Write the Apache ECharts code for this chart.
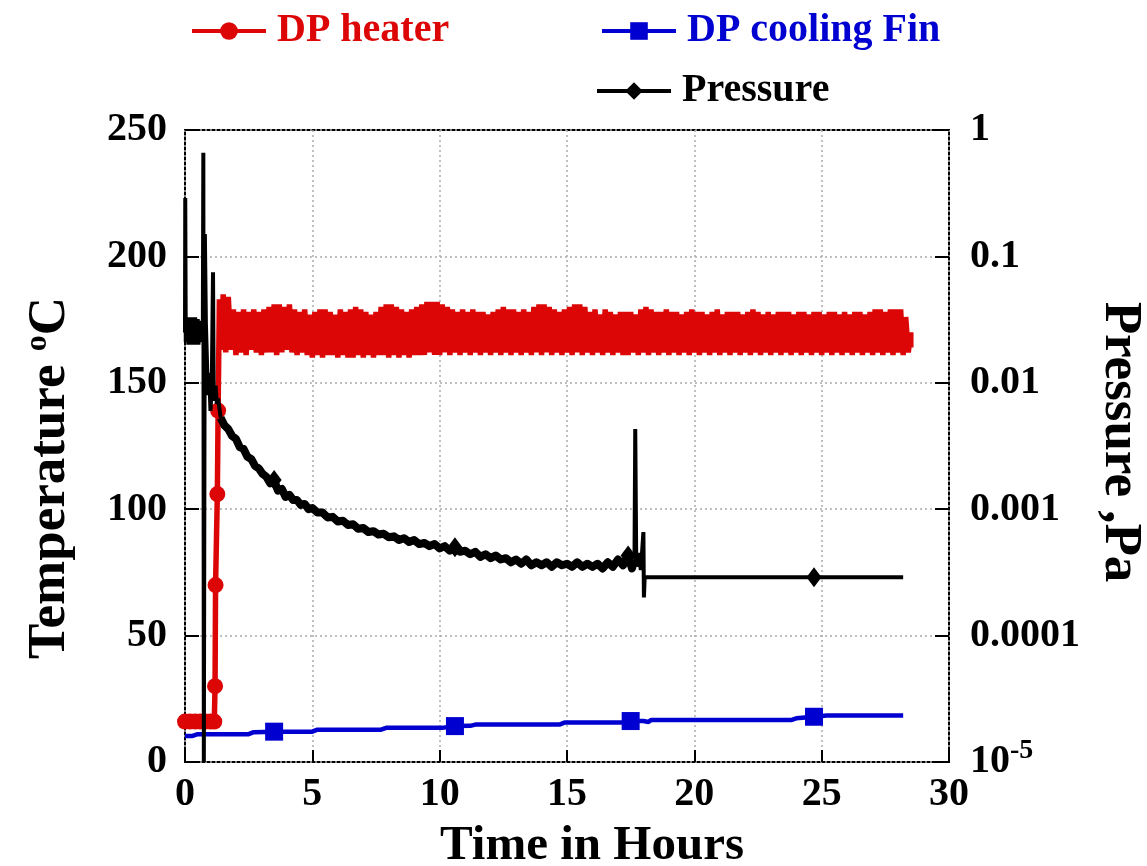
<!DOCTYPE html>
<html><head><meta charset="utf-8">
<script src="https://cdn.jsdelivr.net/npm/echarts@6/dist/echarts.min.js"></script>
<style>html,body{margin:0;padding:0;background:#fff}#c{width:1147px;height:866px}</style>
</head><body><div id="c"></div>
<script>
// ---------- DATA ----------
const xTicks = [0, 5, 10, 15, 20, 25, 30];
const tempTicks = [0, 50, 100, 150, 200, 250];
const pressureTicks = [1e-5, 1e-4, 1e-3, 1e-2, 1e-1, 1];
const pressureTickLabels = ['10^-5', '0.0001', '0.001', '0.01', '0.1', '1'];

// DP heater (deg C): warm-up, then the dense oscillating band
const heaterTime = [0,0.2,0.4,0.6,0.8,1.0,1.15,1.18,1.2,1.27,1.3,1.35,
1.4,1.5,1.6,1.7,1.8,1.9,2.0,2.1,2.2,2.3,
2.4,2.5,2.6,2.7,2.8,2.9,3.0,3.1,3.2,3.3,
3.4,3.5,3.6,3.7,3.8,3.9,4.0,4.1,4.2,4.3,
4.4,4.5,4.6,4.7,4.8,4.9,5.0,5.1,5.2,5.3,
5.4,5.5,5.6,5.7,5.8,5.9,6.0,6.1,6.2,6.3,
6.4,6.5,6.6,6.7,6.8,6.9,7.0,7.1,7.2,7.3,
7.4,7.5,7.6,7.7,7.8,7.9,8.0,8.1,8.2,8.3,
8.4,8.5,8.6,8.7,8.8,8.9,9.0,9.1,9.2,9.3,
9.4,9.5,9.6,9.7,9.8,9.9,10.0,10.1,10.2,10.3,
10.4,10.5,10.6,10.7,10.8,10.9,11.0,11.1,11.2,11.3,
11.4,11.5,11.6,11.7,11.8,11.9,12.0,12.1,12.2,12.3,
12.4,12.5,12.6,12.7,12.8,12.9,13.0,13.1,13.2,13.3,
13.4,13.5,13.6,13.7,13.8,13.9,14.0,14.1,14.2,14.3,
14.4,14.5,14.6,14.7,14.8,14.9,15.0,15.1,15.2,15.3,
15.4,15.5,15.6,15.7,15.8,15.9,16.0,16.1,16.2,16.3,
16.4,16.5,16.6,16.7,16.8,16.9,17.0,17.1,17.2,17.3,
17.4,17.5,17.6,17.7,17.8,17.9,18.0,18.1,18.2,18.3,
18.4,18.5,18.6,18.7,18.8,18.9,19.0,19.1,19.2,19.3,
19.4,19.5,19.6,19.7,19.8,19.9,20.0,20.1,20.2,20.3,
20.4,20.5,20.6,20.7,20.8,20.9,21.0,21.1,21.2,21.3,
21.4,21.5,21.6,21.7,21.8,21.9,22.0,22.1,22.2,22.3,
22.4,22.5,22.6,22.7,22.8,22.9,23.0,23.1,23.2,23.3,
23.4,23.5,23.6,23.7,23.8,23.9,24.0,24.1,24.2,24.3,
24.4,24.5,24.6,24.7,24.8,24.9,25.0,25.1,25.2,25.3,
25.4,25.5,25.6,25.7,25.8,25.9,26.0,26.1,26.2,26.3,
26.4,26.5,26.6,26.7,26.8,26.9,27.0,27.1,27.2,27.3,
27.4,27.5,27.6,27.7,27.8,27.9,28.0,28.1,28.2,28.3,
28.4,28.5,28.5];
const heaterTemp = [16,16,16,16,16,16,16,30,70,106,139,183,
163,185,162,184,163,179,161,178,162,179,
161,178,163,179,162,178,161,179,162,180,
162,181,161,181,162,180,163,181,162,179,
161,178,162,179,161,177,160,178,161,179,
160,179,161,178,161,177,160,179,161,178,
160,179,160,180,161,179,160,178,161,177,
160,178,161,180,161,181,160,181,161,180,
160,179,161,178,160,179,161,180,161,181,
161,182,162,182,161,182,161,181,162,180,
161,179,162,178,161,179,162,178,161,179,
162,178,161,178,162,177,161,178,162,179,
161,180,162,179,161,179,162,178,161,179,
162,178,161,180,162,181,161,181,162,180,
161,179,162,178,161,179,162,180,161,181,
162,181,161,180,162,178,161,179,162,177,
161,179,162,178,161,177,162,178,161,178,
161,178,162,177,161,179,162,180,161,179,
162,178,161,178,162,179,161,178,162,178,
161,177,162,178,161,179,162,178,161,178,
162,177,161,178,162,179,161,177,162,178,
161,178,162,178,161,177,162,178,161,179,
162,178,161,177,162,178,161,177,162,178,
161,178,162,178,161,177,162,178,161,178,
162,177,161,178,162,178,161,177,162,178,
161,178,162,177,161,178,162,177,161,178,
162,178,161,177,162,178,161,179,162,179,
161,178,162,179,161,179,162,179,161,176,
162,170,164];
const heaterMarkTime = [0,0.2,0.4,0.6,0.8,1.0,1.15,1.18,1.2,1.27,1.3];

// DP cooling Fin (deg C)
const coolTime = [0,0.3,0.5,2.5,2.7,3.5,4.0,5.0,5.2,7.7,7.9,10.1,10.6,11.2,11.4,14.7,14.9,17.2,17.5,18.0,18.2,18.3,18.5,23.8,24.0,24.7,25.2,28.2];
const coolTemp = [10.3,10.3,11,11,11.8,12,12,12,12.8,12.8,13.5,13.5,14.2,14.3,14.8,14.8,15.6,15.6,16.2,16.2,15.8,16.6,16.6,16.6,17.3,17.9,18.4,18.4];
const coolMarkTime = [3.5, 10.6, 17.5, 24.7];

// Pressure (Pa): start-up spikes, pump-down curve, late spike and plateau
const pressEarlyTime = [0,0.01,0.03,0.06,0.1,0.13,0.15,0.18,0.2,0.23,0.25,0.28,0.3,0.33,0.35,0.38,0.4,0.43,0.45,0.48,0.5,0.53,0.55,0.58,0.6,0.65,0.7,0.72,0.74,0.78,0.82,0.9,0.95,1.0,1.05,1.1,1.13,1.2,1.25,1.3,1.4];
const pressEarlyVal = [0.025,0.29,0.021,0.03,0.032,0.02,0.033,0.021,0.033,0.02,0.032,0.021,0.032,0.02,0.033,0.021,0.033,0.02,0.031,0.021,0.032,0.02,0.031,0.021,0.028,0.022,0.025,0.66,0.00001,0.15,0.03,0.008,0.012,0.006,0.009,0.075,0.0072,0.0095,0.0068,0.0075,0.0053];
const pressCurveTime = [1.4,1.55,1.7,1.85,2.0,2.15,2.3,2.45,2.6,2.75,2.9,3.05,3.2,3.35,3.5,3.65,3.8,3.95,4.1,4.25,4.4,4.55,4.7,4.85,5.0,
5.2,5.4,5.6,5.8,6.0,6.2,6.4,6.6,6.8,7.0,7.2,7.4,7.6,7.8,8.0,8.2,8.4,8.6,8.8,9.0,9.2,9.4,9.6,9.8,10.0,10.2,10.4,10.6,10.8,
11.0,11.2,11.4,11.6,11.8,12.0,12.2,12.4,12.6,12.8,13.0,13.2,13.4,13.6,13.8,14.0,14.2,14.4,14.6,14.8,15.0,15.2,15.4,15.6,15.8,
16.0,16.2,16.4,16.6,16.8,17.0,17.2,17.4,17.55,17.65];
const pressCurveVal = [0.0053,0.0046,0.0043,0.0038,0.0036,0.0031,0.0030,0.0026,0.0025,0.0022,0.0021,0.0019,0.0018,0.0016,0.0017,0.0014,0.00145,0.00125,0.0013,0.00118,0.00118,0.00108,0.00110,0.00100,0.00102,
0.00094,0.00094,0.00086,0.00087,0.00080,0.00081,0.00075,0.00076,0.00070,0.00071,0.00066,0.00067,0.00063,0.00064,0.00060,0.00061,0.00057,0.00059,0.00055,0.00057,0.00053,0.00054,0.00051,0.00053,0.00049,0.00051,0.00047,0.00050,0.00046,
0.00047,0.00044,0.00046,0.00042,0.00044,0.00041,0.00043,0.00040,0.00041,0.00038,0.00040,0.00037,0.00040,0.00036,0.00038,0.00036,0.00038,0.00035,0.00038,0.00036,0.00037,0.00035,0.00038,0.00035,0.00037,
0.00035,0.00037,0.00034,0.00038,0.00035,0.00040,0.00036,0.00043,0.00034,0.00040];
const pressLateTime = [17.65,17.68,17.72,17.8,17.9,18.0,18.02,18.05,24.7,28.2];
const pressLateVal = [0.00040,0.0043,0.00035,0.00045,0.00033,0.00066,0.0002,0.00029,0.00029,0.00029];
const pressMarkTime = [3.5, 10.6, 17.4, 24.7];

// ---------- STYLE ----------
const FONT = "'Liberation Serif','Times New Roman',serif";
const RED = '#dc0606', BLUE = '#0000d0', BLACK = '#000000';

function build(times, vals, marks) {
  return times.map((t, i) => {
    const item = { value: [t, vals[i]] };
    if (!marks.includes(t)) item.symbol = 'none';
    return item;
  });
}

const legendBase = {
  selectedMode: false, itemWidth: 74, itemHeight: 22, orient: 'horizontal', padding: 0,
  lineStyle: { width: 4 },
  textStyle: { fontSize: 40, fontWeight: 'bold', fontFamily: FONT, padding: [0, 0, 0, 6] }
};

const chart = echarts.init(document.getElementById('c'), null, { renderer: 'canvas' });
chart.setOption({
  animation: false,
  backgroundColor: '#fff',
  legend: [
    Object.assign({}, legendBase, { left: 190, top: 11, data: [{ name: 'DP heater', textStyle: { color: RED } }] }),
    Object.assign({}, legendBase, { left: 600, top: 11, data: [{ name: 'DP cooling Fin', textStyle: { color: BLUE } }] }),
    Object.assign({}, legendBase, { left: 595, top: 71, data: [{ name: 'Pressure', textStyle: { color: BLACK } }] })
  ],
  grid: { left: 185, right: 198, top: 130, bottom: 104, show: true, borderColor: '#000', borderWidth: 2,
          backgroundColor: 'transparent', containLabel: false, outerBoundsMode: 'none' },
  graphic: [
    {
      type: 'text', x: 50, y: 478, rotation: Math.PI / 2, z: 100,
      style: {
        text: 'Temperature {s|o}C', fontSize: 53, fontWeight: 'bold', fontFamily: FONT, fill: '#000',
        align: 'center', verticalAlign: 'middle',
        rich: { s: { fontSize: 32, fontWeight: 'bold', fontFamily: FONT, fill: '#000', padding: [0, 0, 24, 0] } }
      }
    },
    {
      type: 'text', x: 1120, y: 442, rotation: -Math.PI / 2, z: 100,
      style: {
        text: 'Pressure ,Pa', fontSize: 53, fontWeight: 'bold', fontFamily: FONT, fill: '#000',
        align: 'center', verticalAlign: 'middle'
      }
    },
    {
      type: 'text', x: 592, y: 846, z: 100,
      style: {
        text: 'Time in Hours', fontSize: 49, fontWeight: 'bold', fontFamily: FONT, fill: '#000',
        align: 'center', verticalAlign: 'middle'
      }
    }
  ],
  xAxis: {
    type: 'value', min: xTicks[0], max: xTicks[xTicks.length - 1], interval: 5,
    axisLine: { show: false },
    axisTick: { inside: true, length: 12, lineStyle: { color: '#000', width: 2 } },
    axisLabel: { fontSize: 40, fontWeight: 'bold', fontFamily: FONT, color: '#000', margin: 13 },
    splitLine: { show: true, lineStyle: { color: '#aaa', type: [2, 3], width: 1.5 } }
  },
  yAxis: [
    {
      type: 'value', min: tempTicks[0], max: tempTicks[tempTicks.length - 1], interval: 50,
      axisLine: { show: false },
      axisTick: { inside: true, length: 14, lineStyle: { color: '#000', width: 2 } },
      axisLabel: { fontSize: 40, fontWeight: 'bold', fontFamily: FONT, color: '#000', margin: 18 },
      splitLine: { show: true, lineStyle: { color: '#aaa', type: [2, 3], width: 1.5 } }
    },
    {
      type: 'log', logBase: 10, min: pressureTicks[0], max: pressureTicks[pressureTicks.length - 1], position: 'right',
      axisLine: { show: false },
      axisTick: { inside: true, length: 14, lineStyle: { color: '#000', width: 2 } },
      axisLabel: {
        fontSize: 40, fontWeight: 'bold', fontFamily: FONT, color: '#000', margin: 21,
        formatter: function (v) {
          const e = Math.round(Math.log10(v));
          const idx = pressureTicks.findIndex(p => Math.round(Math.log10(p)) === e);
          const lab = idx >= 0 ? pressureTickLabels[idx] : '';
          if (lab.indexOf('^') >= 0) { const parts = lab.split('^'); return parts[0] + '{s|' + parts[1] + '}'; }
          return lab;
        },
        rich: { s: { fontSize: 28, fontWeight: 'bold', fontFamily: FONT, color: '#000', padding: [0, 0, 22, 0] } }
      },
      splitLine: { show: false }
    }
  ],
  series: [
    {
      name: 'DP heater', type: 'line', xAxisIndex: 0, yAxisIndex: 0,
      data: build(heaterTime, heaterTemp, heaterMarkTime),
      symbol: 'circle', symbolSize: 16, showAllSymbol: true,
      lineStyle: { color: RED, width: 5.5, join: 'bevel' }, itemStyle: { color: RED }, z: 3
    },
    {
      name: 'DP cooling Fin', type: 'line', xAxisIndex: 0, yAxisIndex: 0,
      data: build(coolTime, coolTemp, coolMarkTime),
      symbol: 'rect', symbolSize: 18, showAllSymbol: true,
      lineStyle: { color: BLUE, width: 4.5, join: 'bevel' }, itemStyle: { color: BLUE }, z: 2
    },
    {
      name: 'Pressure', type: 'line', xAxisIndex: 0, yAxisIndex: 1,
      data: build(pressEarlyTime, pressEarlyVal, pressMarkTime),
      symbol: 'diamond', symbolSize: [15, 20], showAllSymbol: true,
      lineStyle: { color: BLACK, width: 4, join: 'bevel' }, itemStyle: { color: BLACK }, z: 4
    },
    {
      name: 'Pressure', type: 'line', xAxisIndex: 0, yAxisIndex: 1,
      data: build(pressCurveTime, pressCurveVal, pressMarkTime),
      symbol: 'diamond', symbolSize: [15, 20], showAllSymbol: true,
      lineStyle: { color: BLACK, width: 8, join: 'round' }, itemStyle: { color: BLACK }, z: 4
    },
    {
      name: 'Pressure', type: 'line', xAxisIndex: 0, yAxisIndex: 1,
      data: build(pressLateTime, pressLateVal, pressMarkTime),
      symbol: 'diamond', symbolSize: [15, 20], showAllSymbol: true,
      lineStyle: { color: BLACK, width: 4, join: 'bevel' }, itemStyle: { color: BLACK }, z: 4
    }
  ]
});
</script></body></html>
